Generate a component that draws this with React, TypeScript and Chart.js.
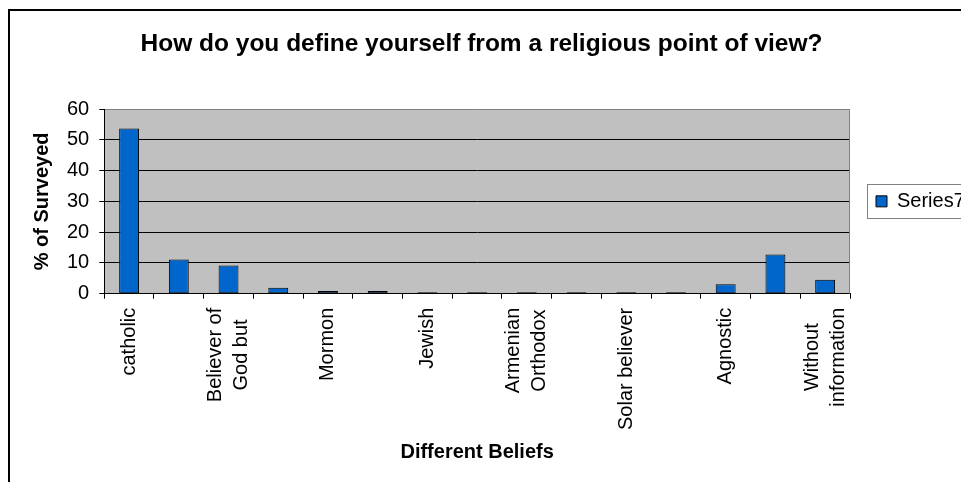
import { useEffect, useRef } from 'react';
import { Chart, registerables } from 'chart.js';

Chart.register(...registerables);

const chartTitle = 'How do you define yourself from a religious point of view?';
const xAxisTitle = 'Different Beliefs';
const yAxisTitle = '% of Surveyed';
const seriesName = 'Series7';
const categories: (string | string[])[] = [
  'catholic', '', ['Believer of', 'God but'], '', 'Mormon', '', 'Jewish', '',
  ['Armenian', 'Orthodox'], '', 'Solar believer', '', 'Agnostic', '', ['Without', 'information'],
];
const values = [53.7, 11.1, 9.2, 1.9, 0.9, 0.9, 0.5, 0.5, 0.5, 0.5, 0.5, 0.5, 3.1, 12.7, 4.5];
const yMin = 0;
const yMax = 60;
const yStep = 10;

const FONT = '"Liberation Sans", Arial, sans-serif';

const decor = {
  id: 'decor',
  beforeDraw(chart: any) {
    const { ctx, chartArea: a } = chart;
    ctx.save();
    ctx.fillStyle = '#C0C0C0';
    ctx.fillRect(a.left, a.top, a.right - a.left, a.bottom - a.top);
    ctx.restore();
  },
  afterDraw(chart: any) {
    const { ctx, chartArea: a } = chart;
    ctx.save();
    // right border of plot area
    ctx.strokeStyle = '#808080';
    ctx.lineWidth = 1;
    const rx = Math.round(a.right) - 0.5;
    ctx.beginPath();
    ctx.moveTo(rx, a.top);
    ctx.lineTo(rx, a.bottom);
    ctx.stroke();

    // x tick labels, rotated; multi-line labels centred on the category,
    // shorter lines centred against the longest one
    const xs = chart.scales.x;
    ctx.font = `20px ${FONT}`;
    ctx.fillStyle = '#000';
    ctx.textAlign = 'right';
    ctx.textBaseline = 'middle';
    categories.forEach((lab, i) => {
      const lines = Array.isArray(lab) ? lab : [lab];
      const widths = lines.map((ln) => ctx.measureText(ln).width);
      const maxW = Math.max(...widths);
      const cx = xs.getPixelForValue(i);
      const y = xs.top + 14;
      lines.forEach((ln, j) => {
        if (!ln) return;
        const off = (j - (lines.length - 1) / 2) * 26;
        ctx.save();
        ctx.translate(cx + off, y + (maxW - widths[j]) / 2);
        ctx.rotate(-Math.PI / 2);
        ctx.fillText(ln, 0, 0);
        ctx.restore();
      });
    });

    // legend frame
    const lg = chart.legend;
    if (lg && lg.legendHitBoxes && lg.legendHitBoxes[0]) {
      const hb = lg.legendHitBoxes[0];
      const cy = hb.top + hb.height / 2;
      ctx.strokeStyle = '#808080';
      ctx.lineWidth = 1;
      ctx.strokeRect(Math.round(hb.left - 9) + 0.5, Math.round(cy - 17) + 0.5, 300, 34);
    }
    ctx.restore();
  },
};

export default function App() {
  const ref = useRef<HTMLCanvasElement | null>(null);

  useEffect(() => {
    if (!ref.current) return;
    const chart = new Chart(ref.current, {
      type: 'bar',
      data: {
        labels: categories,
        datasets: [
          {
            label: seriesName,
            data: values,
            backgroundColor: '#0066CC',
            borderColor: '#000000',
            borderWidth: 1,
            borderSkipped: false,
            barPercentage: 0.4,
            categoryPercentage: 1,
          },
        ],
      },
      options: {
        animation: false,
        responsive: false,
        devicePixelRatio: 1,
        layout: { padding: { left: 0, right: 37, top: 10, bottom: 10 } },
        plugins: {
          tooltip: { enabled: false },
          title: {
            display: true,
            text: chartTitle,
            color: '#000',
            font: { family: FONT, size: 24.5, weight: 'bold' },
            padding: { top: 20, bottom: 49.6 },
            fullSize: true,
          },
          legend: {
            display: true,
            position: 'right',
            fullSize: false,
            maxWidth: 113,
            labels: {
              boxWidth: 11,
              boxHeight: 11,
              padding: 26,
              color: '#000',
              font: { family: FONT, size: 20 },
            },
          },
        },
        scales: {
          x: {
            offset: true,
            grid: {
              display: true,
              offset: true,
              drawOnChartArea: false,
              drawTicks: true,
              tickLength: 5,
              color: '#000',
              tickColor: '#000',
            },
            border: { display: true, color: '#000', width: 1 },
            ticks: {
              autoSkip: false,
              minRotation: 90,
              maxRotation: 90,
              padding: 7,
              color: 'rgba(0,0,0,0)',
              font: { family: FONT, size: 20, lineHeight: 1.3 },
            },
            title: {
              display: true,
              text: xAxisTitle,
              color: '#000',
              font: { family: FONT, size: 20, weight: 'bold' },
              padding: { top: 5, bottom: 8 },
            },
          },
          y: {
            min: yMin,
            max: yMax,
            ticks: {
              stepSize: yStep,
              padding: 10,
              color: '#000',
              font: { family: FONT, size: 20 },
            },
            grid: {
              color: (c: any) => (c.tick && c.tick.value === yMax ? '#808080' : '#000'),
              tickColor: '#000',
              tickLength: 5,
              lineWidth: 1,
            },
            border: { display: true, color: '#000', width: 1 },
            title: {
              display: true,
              text: yAxisTitle,
              color: '#000',
              font: { family: FONT, size: 20, weight: 'bold' },
              padding: { top: 30, bottom: 3 },
            },
          },
        },
      },
      plugins: [decor],
    });
    return () => chart.destroy();
  }, []);

  return (
    <div
      style={{
        position: 'fixed',
        left: 0,
        top: 0,
        width: 961,
        height: 482,
        overflow: 'hidden',
        background: '#fff',
      }}
    >
      <canvas
        ref={ref}
        width={1000}
        height={482}
        style={{ position: 'absolute', left: 0, top: 0, width: 1000, height: 482, display: 'block' }}
      />
      <div
        style={{
          position: 'absolute',
          left: 8,
          top: 9,
          width: 2000,
          height: 2000,
          borderLeft: '2px solid #000',
          borderTop: '2px solid #000',
          pointerEvents: 'none',
        }}
      />
    </div>
  );
}
